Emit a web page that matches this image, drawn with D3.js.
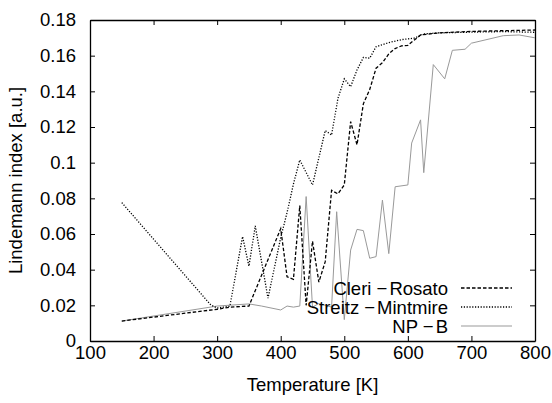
<!DOCTYPE html>
<html>
<head>
<meta charset="utf-8">
<script src="https://cdn.jsdelivr.net/npm/d3@7"></script>
<style>
  body { margin: 0; background: #fff; }
  text { font-family: "Liberation Sans", Arial, sans-serif; }
</style>
</head>
<body>
<div id="chart"></div>
<script>
// data
var xTicks = [100, 200, 300, 400, 500, 600, 700, 800];
var yTicks = [0, 0.02, 0.04, 0.06, 0.08, 0.1, 0.12, 0.14, 0.16, 0.18];

var crT = [150, 300, 320, 350, 400, 410, 420, 430, 440, 450, 460, 470, 480, 490, 500, 510, 520, 530, 540, 550, 560, 570, 580, 590, 600, 620, 650, 700, 750, 800];
var crV = [0.0112, 0.0178, 0.019, 0.0196, 0.063, 0.036, 0.0346, 0.076, 0.02, 0.056, 0.033, 0.0445, 0.0845, 0.0825, 0.0875, 0.123, 0.110, 0.133, 0.141, 0.153, 0.156, 0.161, 0.164, 0.1655, 0.1658, 0.1716, 0.1728, 0.1736, 0.174, 0.1744];

var smT = [150, 290, 300, 320, 340, 350, 360, 380, 400, 410, 420, 430, 450, 470, 480, 490, 500, 510, 520, 530, 540, 550, 570, 590, 610, 625, 650, 700, 750, 800];
var smV = [0.0776, 0.0202, 0.0185, 0.0195, 0.0585, 0.042, 0.0645, 0.024, 0.058, 0.072, 0.088, 0.1015, 0.0875, 0.118, 0.1155, 0.136, 0.147, 0.1426, 0.152, 0.159, 0.1586, 0.165, 0.1673, 0.169, 0.1698, 0.1722, 0.1728, 0.1732, 0.1735, 0.1731];

var npT = [150, 300, 350, 370, 400, 410, 420, 430, 440, 450, 460, 470, 480, 488, 500, 510, 520, 530, 540, 550, 560, 570, 580, 600, 606, 620, 625, 640, 658, 670, 690, 700, 750, 775, 800];
var npV = [0.0112, 0.0196, 0.0208, 0.0196, 0.0174, 0.0196, 0.019, 0.0196, 0.081, 0.019, 0.021, 0.02, 0.019, 0.0725, 0.012, 0.051, 0.0626, 0.0619, 0.0464, 0.0473, 0.079, 0.049, 0.0865, 0.0875, 0.111, 0.124, 0.0944, 0.155, 0.147, 0.163, 0.1636, 0.167, 0.1712, 0.1716, 0.170];

var seriesNames = [['Cleri', 'Rosato'], ['Streitz', 'Mintmire'], ['NP', 'B']];

(() => {
  var W = 552, H = 403;
  var m = { left: 90, right: 17, top: 20, bottom: 62 };
  var fs = 18.5;

  var svg = d3.select('#chart').append('svg')
    .attr('width', W).attr('height', H);

  var x = d3.scaleLinear().domain([100, 800]).range([m.left, W - m.right]);
  var y = d3.scaleLinear().domain([0, 0.18]).range([H - m.bottom, m.top]);

  var fmt = v => String(+v.toFixed(2));

  // axes with inward ticks, mirrored on top/right
  svg.append('g').attr('transform', 'translate(0,' + y(0) + ')')
    .call(d3.axisBottom(x).tickValues(xTicks).tickSizeInner(-5).tickSizeOuter(0).tickPadding(5).tickFormat(d3.format('d')));
  svg.append('g').attr('transform', 'translate(0,' + y(0.18) + ')')
    .call(d3.axisTop(x).tickValues(xTicks).tickSizeInner(-5).tickSizeOuter(0).tickFormat(''));
  svg.append('g').attr('transform', 'translate(' + x(100) + ',0)')
    .call(d3.axisLeft(y).tickValues(yTicks).tickSizeInner(-5).tickSizeOuter(0).tickPadding(14).tickFormat(fmt));
  svg.append('g').attr('transform', 'translate(' + x(800) + ',0)')
    .call(d3.axisRight(y).tickValues(yTicks).tickSizeInner(-5).tickSizeOuter(0).tickFormat(''));

  svg.selectAll('.domain').attr('stroke', '#000').attr('stroke-width', 1.3);
  svg.selectAll('.tick line').attr('stroke', '#000').attr('stroke-width', 1);
  svg.selectAll('.tick text').attr('font-size', fs).attr('fill', '#000')
    .style('font-family', '"Liberation Sans", Arial, sans-serif');

  svg.append('text')
    .attr('x', (x(100) + x(800)) / 2).attr('y', 391)
    .attr('text-anchor', 'middle').attr('font-size', fs)
    .text('Temperature [K]');

  svg.append('text')
    .attr('transform', 'translate(22,' + (y(0.09)) + ') rotate(-90)')
    .attr('text-anchor', 'middle').attr('font-size', fs)
    .text('Lindemann index [a.u.]');

  var styles = [
    { stroke: '#000', width: 1.3, dash: '3.5,2' },
    { stroke: '#000', width: 1.3, dash: '1.2,1.6' },
    { stroke: '#999', width: 1, dash: null }
  ];
  var data = [d3.zip(crT, crV), d3.zip(smT, smV), d3.zip(npT, npV)];

  var line = d3.line().x(d => x(d[0])).y(d => y(d[1]));

  // draw NP-B first so the black lines sit above it
  [2, 1, 0].forEach(i => {
    svg.append('path')
      .datum(data[i])
      .attr('fill', 'none')
      .attr('stroke', styles[i].stroke)
      .attr('stroke-width', styles[i].width)
      .attr('stroke-dasharray', styles[i].dash)
      .attr('d', line);
  });

  // legend
  var lg = svg.append('g');
  seriesNames.forEach((name, i) => {
    var ly = 288 + i * 19;
    var t = lg.append('text')
      .attr('x', 448).attr('y', ly + 7)
      .attr('text-anchor', 'end').attr('font-size', fs);
    t.append('tspan').text(name[0] + ' \u2212');
    t.append('tspan').attr('dx', 2).text(name[1]);
    lg.append('line')
      .attr('x1', 461).attr('x2', 512)
      .attr('y1', ly).attr('y2', ly)
      .attr('stroke', styles[i].stroke)
      .attr('stroke-width', styles[i].width)
      .attr('stroke-dasharray', styles[i].dash);
  });
})();
</script>
</body>
</html>
